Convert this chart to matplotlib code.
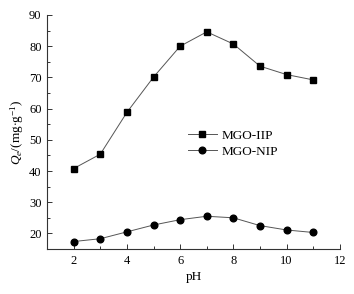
import matplotlib
matplotlib.use('Agg')
import matplotlib.pyplot as plt
from matplotlib.ticker import MultipleLocator

ph = [2, 3, 4, 5, 6, 7, 8, 9, 10, 11]
iip = [40.8, 45.4, 58.8, 70.1, 80.0, 84.6, 80.7, 73.6, 70.9, 69.2]
nip = [17.4, 18.3, 20.5, 22.7, 24.4, 25.5, 25.0, 22.5, 21.1, 20.3]

plt.rcParams['font.family'] = ['Liberation Serif', 'DejaVu Serif']
plt.rcParams['mathtext.fontset'] = 'custom'
plt.rcParams['mathtext.rm'] = 'Liberation Serif'
plt.rcParams['mathtext.it'] = 'Liberation Serif:italic'
plt.rcParams['font.size'] = 9

fig = plt.figure(figsize=(3.54, 2.94), dpi=100)
ax = fig.add_axes([0.133, 0.153, 0.827, 0.796])

ax.plot(ph, iip, color='#555555', lw=0.7, marker='s', ms=4.2,
        mfc='black', mec='black', label='MGO-IIP')
ax.plot(ph, nip, color='#555555', lw=0.7, marker='o', ms=4.8,
        mfc='black', mec='black', label='MGO-NIP')

ax.set_xlim(1, 12)
ax.set_ylim(15, 90)
ax.xaxis.set_major_locator(MultipleLocator(2))
ax.xaxis.set_minor_locator(MultipleLocator(1))
ax.yaxis.set_major_locator(MultipleLocator(10))
ax.yaxis.set_minor_locator(MultipleLocator(5))
ax.tick_params(which='both', direction='in', width=0.7, colors='#333333', labelcolor='black')
ax.tick_params(which='major', length=3.5, pad=4)
ax.tick_params(which='minor', length=2)
ax.spines['top'].set_visible(False)
ax.spines['right'].set_visible(False)
for s in ['left', 'bottom']:
    ax.spines[s].set_linewidth(0.8)
    ax.spines[s].set_color('#333333')

ax.set_xlabel('pH', labelpad=3, fontsize=9.5)
ax.set_ylabel(r'$Q_e$/(mg$\cdot$g$^{-1}$)', labelpad=2, fontsize=9.5)

ax.legend(loc='center left', bbox_to_anchor=(0.44, 0.45), frameon=False,
          handlelength=2.2, handletextpad=0.4, labelspacing=0.3, fontsize=9.5)

fig.savefig('out.png', dpi=100)
